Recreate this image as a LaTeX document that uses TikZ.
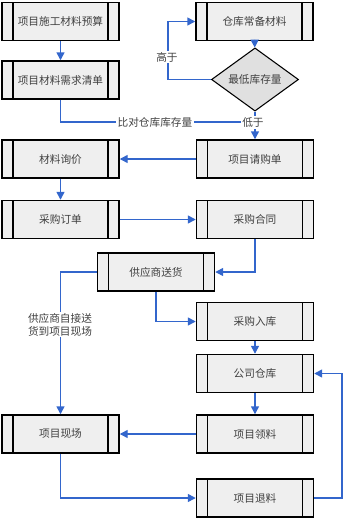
\documentclass[tikz,border=0pt]{standalone}
\usepackage{fontspec}
\newfontfamily\cjk{Noto Sans CJK SC}
\usetikzlibrary{arrows.meta,shapes.geometric}
\definecolor{lineblue}{RGB}{51,102,204}
\definecolor{boxfill}{RGB}{239,239,239}
\definecolor{dfill}{RGB}{224,224,224}
\definecolor{txt}{RGB}{64,64,64}
\tikzset{
  proc/.style={draw=black, line width=1.1pt, fill=boxfill, minimum width=87.75pt, minimum height=28.5pt, inner sep=0pt,
    text=txt, font=\cjk\fontsize{8}{9.75}\selectfont,
    path picture={
      \draw[line width=1.1pt] ([xshift=8.25pt]path picture bounding box.north west) -- ([xshift=8.25pt]path picture bounding box.south west);
      \draw[line width=1.1pt] ([xshift=-8.25pt]path picture bounding box.north east) -- ([xshift=-8.25pt]path picture bounding box.south east);
    }},
  decide/.style={diamond, draw=black, line width=0.8pt, fill=dfill, minimum width=65.25pt, minimum height=42.75pt, inner sep=0pt,
    text=txt, font=\cjk\fontsize{8}{9.75}\selectfont},
  conn/.style={draw=lineblue, line width=1.1pt},
  arr/.style={conn, -{Triangle[length=6pt,width=6pt]}},
  lbl/.style={fill=white, inner sep=1pt, text=txt, font=\cjk\fontsize{8}{9.75}\selectfont, align=center}
}
\begin{document}
\begin{tikzpicture}[x=0.75pt,y=-0.75pt]
\useasboundingbox (0,0) rectangle (352,519);
\node[proc] (A) at (60.5,21.5) {项目施工材料预算};
\node[proc] (B) at (60.5,80) {项目材料需求清单};
\node[proc] (C) at (254.5,21.5) {仓库常备材料};
\node[decide] (D) at (255,79.5) {最低库存量};
\node[proc] (E) at (255,159) {项目请购单};
\node[proc] (F) at (60.5,159) {材料询价};
\node[proc] (G) at (60.5,219.5) {采购订单};
\node[proc] (H) at (255,219.5) {采购合同};
\node[proc] (I) at (156,272) {供应商送货};
\node[proc] (J) at (255,321.5) {采购入库};
\node[proc] (K) at (255,373.5) {公司仓库};
\node[proc] (L) at (255,434) {项目领料};
\node[proc] (M) at (60.5,434) {项目现场};
\node[proc] (N) at (255,498) {项目退料};
\coordinate (j) at (255,122);
\coordinate (hi) at (168,79.5);
\coordinate (rt) at (342,498);

\draw[arr] (A) -- (B);
\draw[conn] (B.south) |- (j);
\draw[arr] (C) -- (D);
\draw[arr] (D.south) -- (E.north);
\draw[arr] (D.west) -- (hi) |- (C.west);
\draw[arr] (E) -- (F);
\draw[arr] (F) -- (G);
\draw[arr] (G) -- (H);
\draw[arr] (H.south) |- (I.east);
\draw[arr] (I.west) -| (M.north);
\draw[arr] (I.south) |- (J.west);
\draw[arr] (J) -- (K);
\draw[arr] (K) -- (L);
\draw[arr] (L) -- (M);
\draw[arr] (M.south) |- (N.west);
\draw[arr] (N.east) -- (rt) |- (K.east);

\node[lbl] (l1) at (167,57) {高于};
\node[lbl] (l2) at (253,122.5) {低于};
\node[lbl] (l3) at (155,122) {比对仓库库存量};
\node[lbl] (l4) at (60,324.5) {供应商自接送\\货到项目现场};
\end{tikzpicture}
\end{document}
